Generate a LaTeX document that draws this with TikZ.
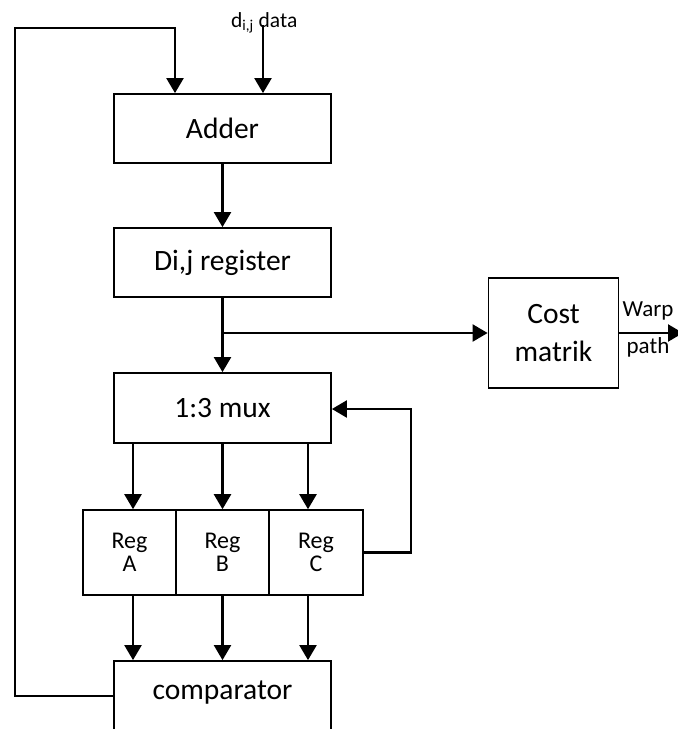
\documentclass[tikz,border=0pt]{standalone}
\usepackage{fontspec}
\setmainfont{Carlito}
\usetikzlibrary{arrows.meta}
\begin{document}
\begin{tikzpicture}[x=1pt,y=-1pt,
  blk/.style={draw, line width=1.8pt, rectangle, inner sep=0pt,
    font=\fontsize{29.5}{35}\selectfont},
  regbox/.style={draw, line width=1.6pt, rectangle, minimum width=93pt,
    minimum height=85pt, inner sep=0pt, align=center,
    font=\fontsize{24}{23}\selectfont},
  flow/.style={line width=2.3pt, -{Triangle[length=15pt,width=17pt]}},
  lbl/.style={inner sep=0pt}
]
\useasboundingbox (0,0) rectangle (678,729);
\clip (0,0) rectangle (678,729);

% processing chain
\node[blk, minimum width=217pt, minimum height=69pt] (adder) at (222.5,128.5) {Adder};
\node[blk, minimum width=217pt, minimum height=69pt] (dreg) at (222.5,262.5) {Di,j register};
\node[blk, minimum width=217pt, minimum height=70pt] (mux) at (222.5,408) {1:3 mux};
\node[blk, minimum width=130pt, minimum height=110pt, align=center,
  font=\fontsize{29.5}{38}\selectfont] (cost) at (553.5,333) {Cost\\matrik};

% registers
\node[regbox] (regA) at (129.5,552.5) {Reg\\A};
\node[regbox] (regB) at (222.5,552.5) {Reg\\B};
\node[regbox, minimum width=94pt] (regC) at (316,552.5) {Reg\\C};

% comparator (runs past the lower edge)
\node[blk, minimum width=217pt, minimum height=100pt] (comp) at (222.5,711) {};
\node[lbl, font=\fontsize{29.5}{35}\selectfont] (comptext) at (222.5,693) {comparator};

% input label
\node[lbl, anchor=base west, font=\fontsize{21.5}{26}\selectfont] (dlabel) at (231,27) {d\textsubscript{i,j} data};

% output labels
\node[lbl, font=\fontsize{23}{27}\selectfont] (warp) at (648,311) {Warp};
\node[lbl, font=\fontsize{23}{27}\selectfont] (path) at (648,347) {path};

% helper coordinates
\coordinate (xa) at (133,0);
\coordinate (xb) at (222.5,0);
\coordinate (xc) at (308,0);
\coordinate (split) at (222.5,333);
\coordinate (fbC) at (411,409);
\coordinate (loopL) at (15,28);
\coordinate (xin) at (175,0);
\coordinate (cy) at (0,696);
\coordinate (din) at (263,25);
\coordinate (wp) at (683,333);

% connectors
\draw[flow] (din) -- (adder.north -| din);
\draw[flow] (adder.south) -- (dreg.north);
\draw[flow] (dreg.south) -- (mux.north);
\draw[flow] (split) -- (cost.west);
\draw[flow] (cost.east) -- (wp);

\draw[flow] (mux.south -| xa) -- (regA.north -| xa);
\draw[flow] (mux.south -| xb) -- (regB.north -| xb);
\draw[flow] (mux.south -| xc) -- (regC.north -| xc);

\draw[flow] (regC.east) -| (fbC) -- (fbC -| mux.east);

\draw[flow] (regA.south -| xa) -- (comp.north -| xa);
\draw[flow] (regB.south -| xb) -- (comp.north -| xb);
\draw[flow] (regC.south -| xc) -- (comp.north -| xc);

\draw[flow] (comp.west |- cy) -- (loopL |- cy) -- (loopL) -- (loopL -| xin) -- (adder.north -| xin);
\end{tikzpicture}
\end{document}
